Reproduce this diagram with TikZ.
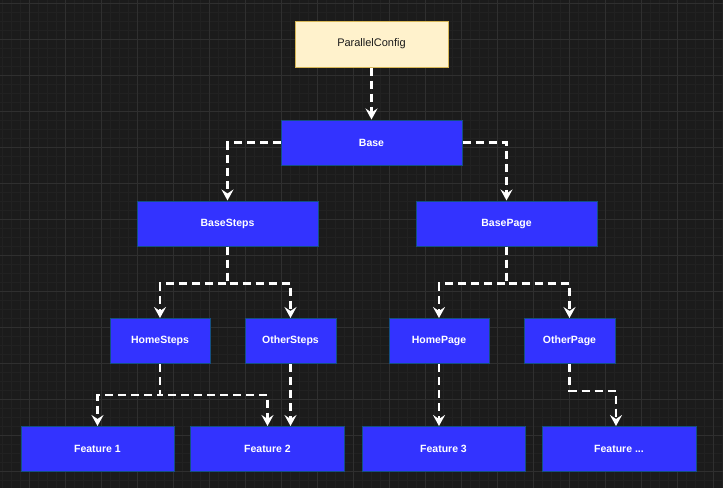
\documentclass[tikz,border=0pt]{standalone}
\usepackage{fontspec}
\setmainfont{Liberation Sans}
\usetikzlibrary{arrows.meta}
\definecolor{canvas}{RGB}{27,27,27}
\definecolor{minorgrid}{RGB}{33,33,33}
\definecolor{majorgrid}{RGB}{47,47,47}
\definecolor{boxblue}{RGB}{51,51,255}
\definecolor{boxline}{RGB}{20,80,130}
\definecolor{rootfill}{RGB}{255,242,204}
\definecolor{rootline}{RGB}{214,182,86}
\definecolor{roottext}{RGB}{26,26,26}
\begin{document}
\begin{tikzpicture}[x=1pt,y=-1pt,
  box/.style={draw=boxline, fill=boxblue, text=white, line width=1pt, inner sep=0pt,
    minimum height=45pt, font=\bfseries\fontsize{10.5}{12}\selectfont},
  root/.style={draw=rootline, fill=rootfill, text=roottext, line width=1pt, inner sep=0pt,
    minimum width=153pt, minimum height=46pt, font=\fontsize{11}{13}\selectfont},
  link/.style={white, line width=2.5pt, dash pattern=on 8pt off 5pt,
    -{Stealth[length=11pt,width=12pt,inset=4pt]}}]
% background and grid
\fill[canvas] (0,0) rectangle (723,488);
\useasboundingbox (0,0) rectangle (723,488);
\draw[minorgrid, line width=0.5pt]
    \foreach \x in {2,11,...,722}{ (\x,0) -- (\x,488)}
    \foreach \y in {3,12,...,487}{ (0,\y) -- (723,\y)};
\draw[majorgrid, line width=1pt]
    \foreach \x in {29,65,...,722}{ (\x,0) -- (\x,488)}
    \foreach \y in {3,39,...,487}{ (0,\y) -- (723,\y)};
% nodes
\node[root] (config) at (371.5,44) {ParallelConfig};
\foreach \n/\x/\y/\w/\t in {base/371.5/142.5/181/Base, basesteps/227.5/223.5/181/BaseSteps,
    basepage/506.5/223.5/181/BasePage, homesteps/160/341/100/HomeSteps,
    othersteps/290.5/341/91/OtherSteps, homepage/439/341/100/HomePage,
    otherpage/569.5/341/91/OtherPage, feat1/97.5/449/153/Feature 1,
    feat2/267.5/449/154/Feature 2, feat3/443.5/449/163/Feature 3}
  \node[box, minimum width=\w] (\n) at (\x,\y) {\t};
\node[box, minimum width=154] (featn) at (619,449) {Feature ...};
% links
\draw[link] (config) -- (base);
\draw[link] (base.west) -| (basesteps.north);
\draw[link] (base.east) -| (basepage.north);
\draw[link] (basesteps.south) -- ++(0,37) -| (homesteps.north);
\draw[link] (basesteps.south) -- ++(0,37) -| (othersteps.north);
\draw[link] (basepage.south) -- ++(0,37) -| (homepage.north);
\draw[link] (basepage.south) -- ++(0,37) -| (otherpage.north);
\draw[link] (homesteps.south) -- ++(0,31) -| (feat1.north);
\draw[link] (homesteps.south) -- ++(0,31) -| (feat2.north);
\draw[link] (othersteps.south) -- (othersteps.south |- feat2.north);
\draw[link] (homepage.south) -- (homepage.south |- feat3.north);
\draw[link] (otherpage.south) -- ++(0,27) -| ([xshift=-3pt]featn.north);
\end{tikzpicture}
\end{document}
